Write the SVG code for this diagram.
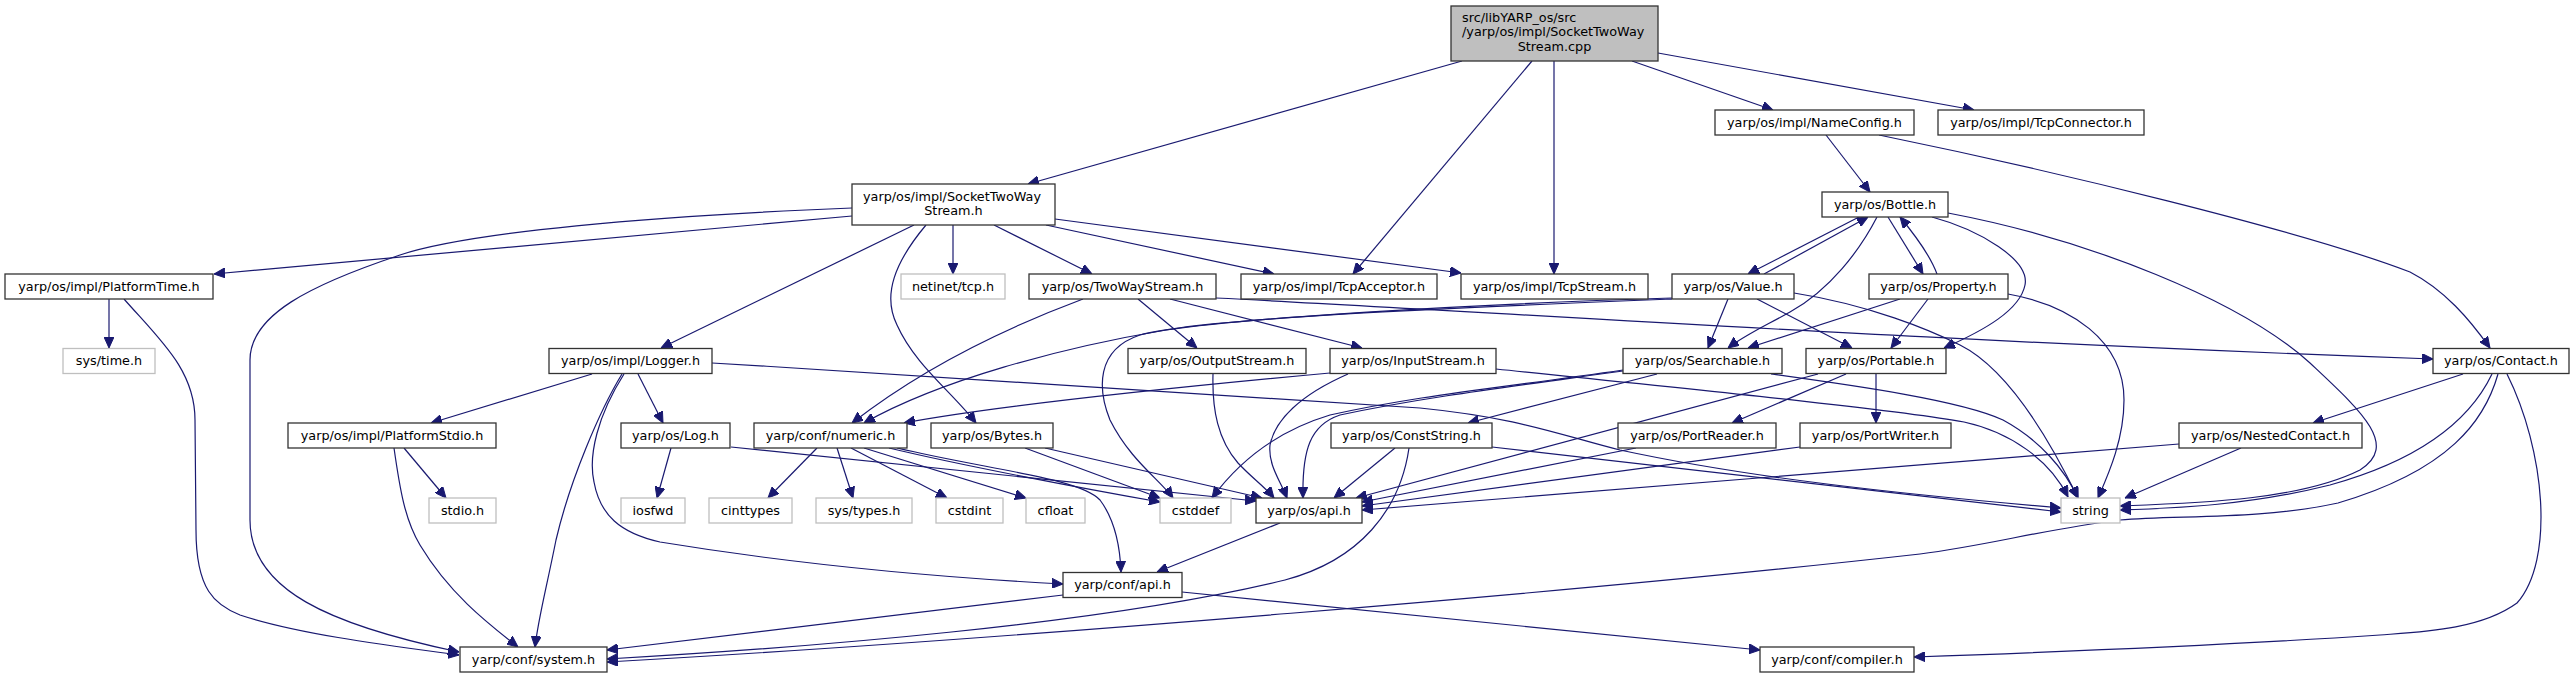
<svg xmlns="http://www.w3.org/2000/svg" width="2575" height="679" viewBox="0 0 2575 679">
<defs>
<marker id="ah" markerUnits="userSpaceOnUse" markerWidth="11" markerHeight="10" refX="11" refY="5" orient="auto">
<path d="M0,0 L11,5 L0,10 z" fill="#191970" stroke="#191970" stroke-width="1"/>
</marker>
<style>
.n rect{fill:#ffffff;stroke:#333333;stroke-width:1.3}
.g rect{fill:#ffffff;stroke:#bfbfbf;stroke-width:1.3}
.r rect{fill:#bfbfbf;stroke:#333333;stroke-width:1.3}
text{font-family:"DejaVu Sans","Liberation Sans",sans-serif;font-size:12.8px;fill:#000000}
.c{text-anchor:middle}
#edges path{fill:none;stroke:#191970;stroke-width:1.2;marker-end:url(#ah)}
</style>
</defs>
<rect x="0" y="0" width="2575" height="679" fill="#ffffff"/>
<g id="edges">
<path d="M1462,61 L1028,184"/>
<path d="M1532,61 L1353,274"/>
<path d="M1554,61 L1554,274"/>
<path d="M1632,61 L1773,110"/>
<path d="M1658,53 L1974,110"/>
<path d="M852,216 L214,274"/>
<path d="M852,208 C650,216 470,232 400,255 C310,285 250,315 250,360 L250,520 C250,590 330,625 459,652"/>
<path d="M914,225 L661,348"/>
<path d="M926,225 C895,262 882,295 897,325 C915,365 952,392 976,423"/>
<path d="M953,225 L953,274"/>
<path d="M994,225 L1092,274"/>
<path d="M1046,225 L1274,274"/>
<path d="M1055,219 L1461,273"/>
<path d="M109,299 L109,348"/>
<path d="M124,299 C160,340 195,370 195,420 L196,530 C196,590 215,605 240,615 C300,635 400,647 459,655"/>
<path d="M592,374 L431,423"/>
<path d="M622,374 C600,410 570,480 556,540 C546,590 538,620 535,647"/>
<path d="M624,374 C598,415 588,455 594,482 C600,515 620,533 660,542 C800,565 950,578 1063,584"/>
<path d="M638,374 L663,423"/>
<path d="M712,363 C1000,380 1300,400 1420,408 C1520,418 1560,435 1620,450 C1750,478 1900,494 2061,508"/>
<path d="M404,448 L446,498"/>
<path d="M394,448 C400,490 405,520 420,545 C450,595 490,625 518,647"/>
<path d="M671,448 L657,498"/>
<path d="M731,447 L1256,501"/>
<path d="M817,448 L768,498"/>
<path d="M837,448 L853,498"/>
<path d="M851,448 L947,498"/>
<path d="M864,448 L1026,498"/>
<path d="M889,448 C960,465 1080,488 1160,502"/>
<path d="M897,448 C990,470 1080,478 1100,500 C1115,520 1120,545 1121,572"/>
<path d="M1025,448 L1160,498"/>
<path d="M1045,448 L1262,498"/>
<path d="M1213,374 C1212,410 1218,440 1238,463 C1252,478 1265,487 1274,498"/>
<path d="M1348,374 C1300,395 1275,420 1270,445 C1268,465 1280,480 1287,498"/>
<path d="M1330,373 C1200,385 1000,405 904,423"/>
<path d="M1496,369 C1700,390 1900,410 1964,422 C2010,432 2050,460 2068,497"/>
<path d="M1083,299 C1000,330 920,370 852,423"/>
<path d="M1138,299 L1197,348"/>
<path d="M1170,299 L1362,348"/>
<path d="M1216,298 C1500,312 1900,340 2433,359"/>
<path d="M1764,274 L1868,217"/>
<path d="M1672,298 C1450,305 1250,318 1166,330 C1060,348 940,380 864,423"/>
<path d="M1672,299 C1450,308 1200,318 1140,335 C1095,350 1098,390 1110,420 C1130,460 1160,480 1173,498"/>
<path d="M1728,299 L1708,348"/>
<path d="M1757,299 L1852,348"/>
<path d="M1794,293 C1870,305 1930,330 1960,345 C2000,365 2040,420 2078,498"/>
<path d="M1859,217 L1748,274"/>
<path d="M1877,217 C1860,250 1830,290 1790,312 C1765,326 1745,335 1728,348"/>
<path d="M1888,217 L1923,274"/>
<path d="M1937,274 C1930,255 1915,235 1900,217"/>
<path d="M1932,217 C1980,230 2030,260 2025,285 C2020,310 1985,330 1944,348"/>
<path d="M1948,213 C2090,240 2240,300 2310,363 C2360,410 2400,445 2360,470 C2300,500 2200,503 2120,506"/>
<path d="M1900,299 L1748,348"/>
<path d="M1928,299 L1891,348"/>
<path d="M2008,294 C2070,305 2124,340 2124,400 C2124,440 2108,475 2098,498"/>
<path d="M1657,374 L1468,423"/>
<path d="M1623,370 C1500,388 1420,395 1330,415 C1280,430 1240,460 1212,498"/>
<path d="M1623,371 C1500,388 1420,398 1340,415 C1310,425 1302,450 1303,498"/>
<path d="M1771,374 C1850,385 1960,400 2003,420 C2040,440 2065,470 2078,498"/>
<path d="M1846,374 L1732,423"/>
<path d="M1876,374 L1876,423"/>
<path d="M1818,374 L1356,498"/>
<path d="M1395,448 L1334,498"/>
<path d="M1409,448 C1400,510 1360,560 1285,580 C1100,625 800,648 607,659"/>
<path d="M1492,447 L2061,512"/>
<path d="M1636,448 L1362,502"/>
<path d="M1800,447 L1362,506"/>
<path d="M2179,444 L1362,510"/>
<path d="M2241,448 L2125,498"/>
<path d="M2463,374 L2313,423"/>
<path d="M2492,374 C2470,420 2420,460 2330,485 C2250,505 2180,508 2120,510"/>
<path d="M2498,374 C2485,420 2450,470 2338,503 C2260,520 2180,515 2120,520 C2040,530 1990,545 1920,554 C1600,590 1000,640 607,662"/>
<path d="M2507,374 C2545,450 2555,560 2517,603 C2480,630 2420,632 2380,635 C2200,647 2000,654 1914,657"/>
<path d="M1280,523 L1157,572"/>
<path d="M1063,595 L607,650"/>
<path d="M1182,592 L1760,650"/>
<path d="M1826,135 L1870,192"/>
<path d="M1879,135 C2050,170 2300,230 2410,272 C2445,290 2470,320 2490,348"/>
</g>
<g id="root" class="r"><rect x="1451" y="6" width="207" height="55"/><text x="1462" y="21.5">src/libYARP_os/src</text><text x="1462" y="36.2">/yarp/os/impl/SocketTwoWay</text><text class="c" x="1554.5" y="50.9">Stream.cpp</text></g>
<g id="n_stws" class="n"><rect x="852" y="184" width="203" height="41"/><text x="863" y="200.5">yarp/os/impl/SocketTwoWay</text><text class="c" x="953.5" y="215">Stream.h</text></g>
<g id="n_tcpacceptor" class="n"><rect x="1241" y="274" width="196" height="25"/><text class="c" x="1339" y="290.5">yarp/os/impl/TcpAcceptor.h</text></g>
<g id="n_tcpstream" class="n"><rect x="1461" y="274" width="187" height="25"/><text class="c" x="1554.5" y="290.5">yarp/os/impl/TcpStream.h</text></g>
<g id="n_nameconfig" class="n"><rect x="1715" y="110" width="199" height="25"/><text class="c" x="1814.5" y="126.5">yarp/os/impl/NameConfig.h</text></g>
<g id="n_tcpconnector" class="n"><rect x="1938" y="110" width="206" height="25"/><text class="c" x="2041" y="126.5">yarp/os/impl/TcpConnector.h</text></g>
<g id="n_platformtime" class="n"><rect x="5" y="274" width="208" height="25"/><text class="c" x="109" y="290.5">yarp/os/impl/PlatformTime.h</text></g>
<g id="n_system" class="n"><rect x="460" y="647" width="147" height="25"/><text class="c" x="533.5" y="663.5">yarp/conf/system.h</text></g>
<g id="n_logger" class="n"><rect x="549" y="348.5" width="163" height="25"/><text class="c" x="630.5" y="365">yarp/os/impl/Logger.h</text></g>
<g id="n_bytes" class="n"><rect x="931" y="423" width="122" height="25"/><text class="c" x="992" y="439.5">yarp/os/Bytes.h</text></g>
<g id="n_netinet" class="g"><rect x="901" y="274" width="104" height="25"/><text class="c" x="953" y="290.5">netinet/tcp.h</text></g>
<g id="n_twowaystream" class="n"><rect x="1029" y="274" width="187" height="25"/><text class="c" x="1122.5" y="290.5">yarp/os/TwoWayStream.h</text></g>
<g id="n_systime" class="g"><rect x="63" y="348.5" width="92" height="25"/><text class="c" x="109" y="365">sys/time.h</text></g>
<g id="n_platformstdio" class="n"><rect x="288" y="423" width="208" height="25"/><text class="c" x="392" y="439.5">yarp/os/impl/PlatformStdio.h</text></g>
<g id="n_stdio" class="g"><rect x="429" y="498" width="67" height="25"/><text class="c" x="462.5" y="514.5">stdio.h</text></g>
<g id="n_log" class="n"><rect x="621" y="423" width="109" height="25"/><text class="c" x="675.5" y="439.5">yarp/os/Log.h</text></g>
<g id="n_iosfwd" class="g"><rect x="621" y="498" width="64" height="25"/><text class="c" x="653" y="514.5">iosfwd</text></g>
<g id="n_numeric" class="n"><rect x="754" y="423" width="153" height="25"/><text class="c" x="830.5" y="439.5">yarp/conf/numeric.h</text></g>
<g id="n_confapi" class="n"><rect x="1063" y="572.5" width="119" height="25"/><text class="c" x="1122.5" y="589">yarp/conf/api.h</text></g>
<g id="n_cinttypes" class="g"><rect x="709" y="498" width="83" height="25"/><text class="c" x="750.5" y="514.5">cinttypes</text></g>
<g id="n_systypes" class="g"><rect x="816" y="498" width="96" height="25"/><text class="c" x="864" y="514.5">sys/types.h</text></g>
<g id="n_cstdint" class="g"><rect x="936" y="498" width="67" height="25"/><text class="c" x="969.5" y="514.5">cstdint</text></g>
<g id="n_cfloat" class="g"><rect x="1026" y="498" width="59" height="25"/><text class="c" x="1055.5" y="514.5">cfloat</text></g>
<g id="n_cstddef" class="g"><rect x="1160" y="498" width="71" height="25"/><text class="c" x="1195.5" y="514.5">cstddef</text></g>
<g id="n_osapi" class="n"><rect x="1256" y="498" width="106" height="25"/><text class="c" x="1309" y="514.5">yarp/os/api.h</text></g>
<g id="n_outputstream" class="n"><rect x="1128" y="348.5" width="178" height="25"/><text class="c" x="1217" y="365">yarp/os/OutputStream.h</text></g>
<g id="n_inputstream" class="n"><rect x="1330" y="348.5" width="166" height="25"/><text class="c" x="1413" y="365">yarp/os/InputStream.h</text></g>
<g id="n_string" class="g"><rect x="2061" y="498" width="59" height="25"/><text class="c" x="2090.5" y="514.5">string</text></g>
<g id="n_compiler" class="n"><rect x="1760" y="647" width="154" height="25"/><text class="c" x="1837" y="663.5">yarp/conf/compiler.h</text></g>
<g id="n_value" class="n"><rect x="1672" y="274" width="122" height="25"/><text class="c" x="1733" y="290.5">yarp/os/Value.h</text></g>
<g id="n_bottle" class="n"><rect x="1822" y="192" width="126" height="25"/><text class="c" x="1885" y="208.5">yarp/os/Bottle.h</text></g>
<g id="n_property" class="n"><rect x="1869" y="274" width="139" height="25"/><text class="c" x="1938.5" y="290.5">yarp/os/Property.h</text></g>
<g id="n_searchable" class="n"><rect x="1623" y="348.5" width="159" height="25"/><text class="c" x="1702.5" y="365">yarp/os/Searchable.h</text></g>
<g id="n_portable" class="n"><rect x="1806" y="348.5" width="140" height="25"/><text class="c" x="1876" y="365">yarp/os/Portable.h</text></g>
<g id="n_conststring" class="n"><rect x="1331" y="423" width="161" height="25"/><text class="c" x="1411.5" y="439.5">yarp/os/ConstString.h</text></g>
<g id="n_portreader" class="n"><rect x="1618" y="423" width="158" height="25"/><text class="c" x="1697" y="439.5">yarp/os/PortReader.h</text></g>
<g id="n_portwriter" class="n"><rect x="1800" y="423" width="151" height="25"/><text class="c" x="1875.5" y="439.5">yarp/os/PortWriter.h</text></g>
<g id="n_contact" class="n"><rect x="2433" y="348.5" width="136" height="25"/><text class="c" x="2501" y="365">yarp/os/Contact.h</text></g>
<g id="n_nestedcontact" class="n"><rect x="2179" y="423" width="183" height="25"/><text class="c" x="2270.5" y="439.5">yarp/os/NestedContact.h</text></g>
</svg>
